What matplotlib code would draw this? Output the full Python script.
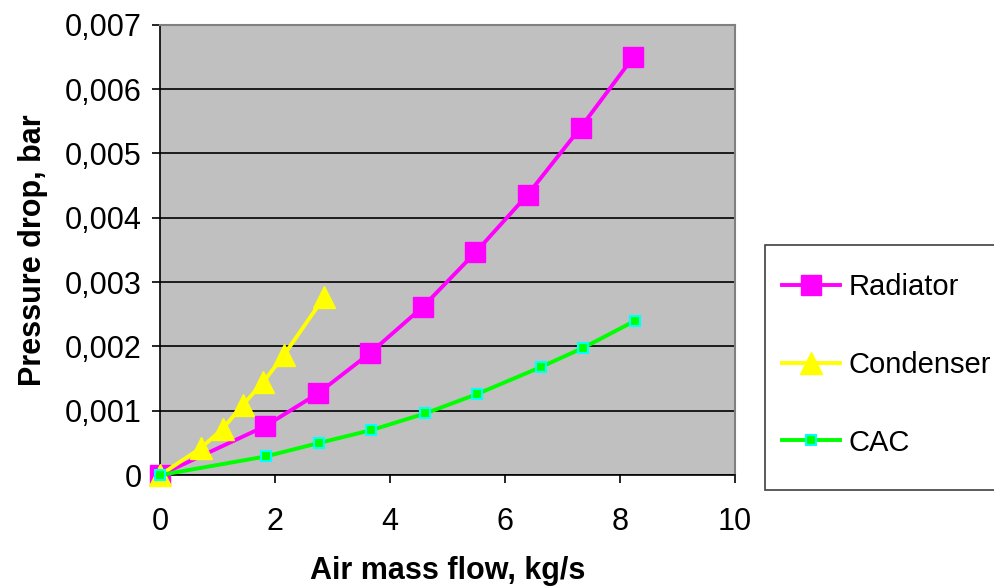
import numpy as np
import matplotlib.pyplot as plt
from matplotlib.patches import Rectangle
from matplotlib.ticker import FuncFormatter

plt.rcParams['font.family'] = ['Liberation Sans', 'DejaVu Sans']

# Radiator
rad_x = [0, 1.83, 2.75, 3.66, 4.58, 5.49, 6.40, 7.32, 8.24]
rad_y = [0, 0.00076, 0.00127, 0.0019, 0.00262, 0.00346, 0.00436, 0.0054, 0.0065]

# Condenser
con_x = [0, 0.71, 1.09, 1.44, 1.80, 2.16, 2.86]
con_y = [0, 0.00042, 0.00072, 0.00109, 0.00145, 0.00187, 0.00277]

# CAC
cac_x = [0, 1.84, 2.77, 3.68, 4.62, 5.52, 6.63, 7.37, 8.27]
cac_y = [0, 0.00029, 0.0005, 0.0007, 0.00096, 0.00126, 0.00168, 0.00198, 0.0024]

fig = plt.figure(figsize=(9.94, 5.88), dpi=100)
ax = fig.add_axes([0.161, 0.192, 0.578, 0.766])
ax.set_facecolor('#C0C0C0')

ax.plot(rad_x, rad_y, color='#FF00FF', lw=2.8, marker='s', markersize=14,
        markerfacecolor='#FF00FF', markeredgecolor='#FF00FF', label='Radiator',
        zorder=3, clip_on=False)
ax.plot(con_x, con_y, color='#FFFF00', lw=2.8, marker='^', markersize=16,
        markerfacecolor='#FFFF00', markeredgecolor='#FFFF00', label='Condenser',
        zorder=3, clip_on=False)
ax.plot(cac_x, cac_y, color='#00FF00', lw=2.8, marker='s', markersize=6.5,
        markerfacecolor='#00FF00', markeredgecolor='#00FFFF', markeredgewidth=1.5,
        label='CAC', zorder=4, clip_on=False)

ax.set_xlim(0, 10)
ax.set_ylim(0, 0.007)
ax.set_xticks(np.arange(0, 11, 2))
ax.set_yticks(np.arange(0, 0.0071, 0.001))
ax.yaxis.set_major_formatter(FuncFormatter(
    lambda v, p: '0' if abs(v) < 1e-9 else f'{v:.3f}'.replace('.', ',')))
ax.yaxis.grid(True, color='black', lw=1.2)
ax.set_axisbelow(True)

ax.tick_params(axis='both', labelsize=22, direction='out', length=6, width=1.2, color='black')
ax.tick_params(axis='x', pad=17)
ax.tick_params(axis='y', pad=7)

for s in ['left', 'bottom']:
    ax.spines[s].set_color('black')
    ax.spines[s].set_linewidth(1.2)
for s in ['top', 'right']:
    ax.spines[s].set_color('#808080')
    ax.spines[s].set_linewidth(1.5)

ax.set_xlabel('Air mass flow, kg/s', fontsize=22, fontweight='bold', labelpad=14)
ax.set_ylabel('Pressure drop, bar', fontsize=22, fontweight='bold', labelpad=12)

# legend frame drawn by hand (reference box runs off the right edge)
fig.patches.append(Rectangle((765 / 994, 98 / 588), 0.26, 245 / 588,
                             transform=fig.transFigure, facecolor='white',
                             edgecolor='#404040', lw=1.2, zorder=0))
leg = fig.legend(loc='center left', bbox_to_anchor=(782 / 994, 223 / 588), fontsize=21,
                 frameon=False, borderpad=0, labelspacing=1.7, handlelength=2.0,
                 handletextpad=0.27, borderaxespad=0)

fig.savefig('out.png', dpi=100)
